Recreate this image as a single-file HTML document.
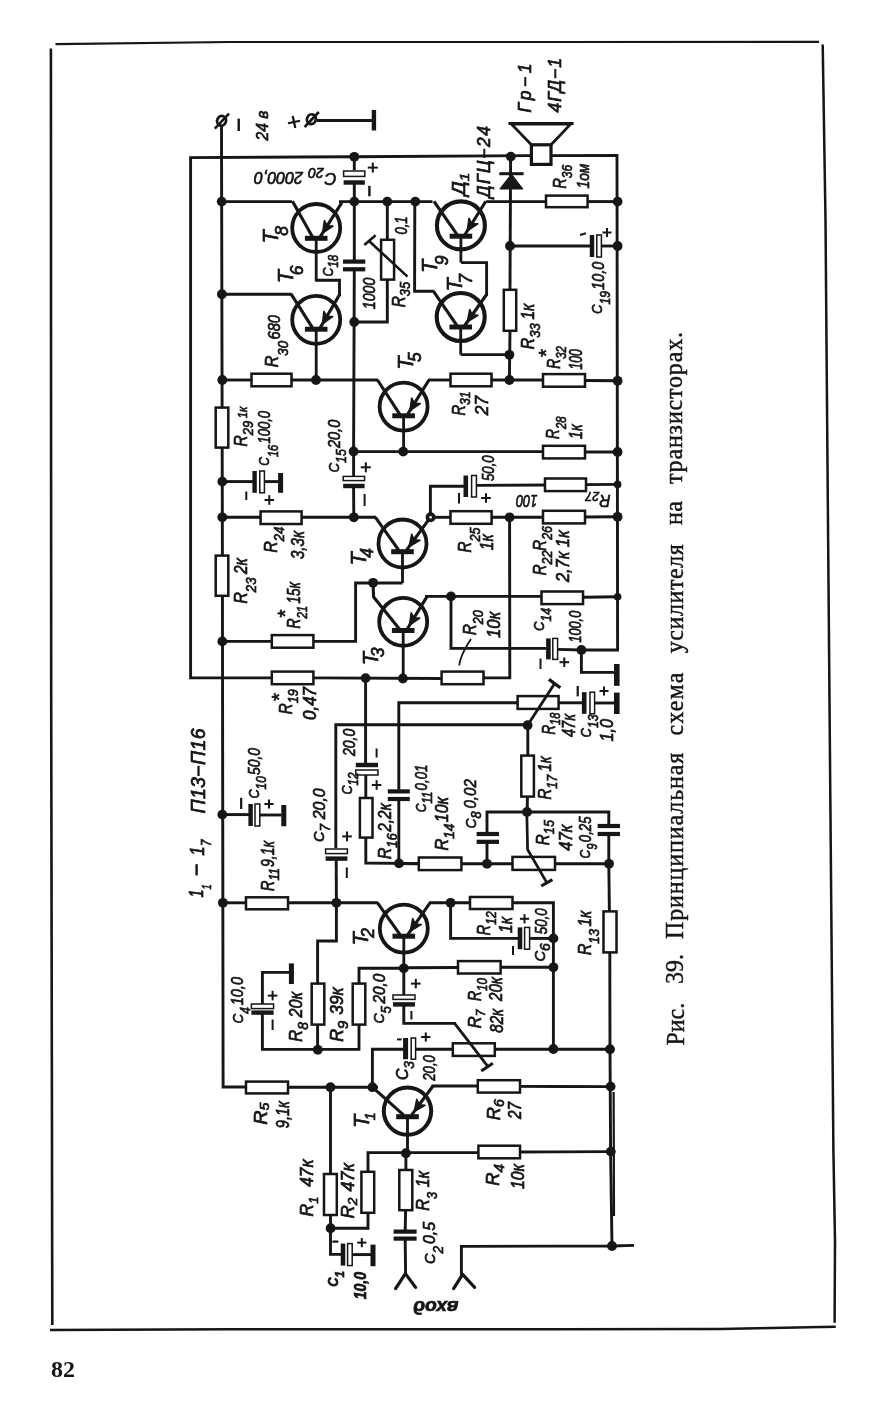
<!DOCTYPE html>
<html><head><meta charset="utf-8"><title>Рис. 39</title>
<style>
html,body{margin:0;padding:0;background:#fff;}
body{width:880px;height:1402px;overflow:hidden;font-family:"Liberation Sans",sans-serif;}
svg{display:block;}
</style></head>
<body>
<svg width="880" height="1402" viewBox="0 0 880 1402">
<rect width="880" height="1402" fill="#fff"/>
<defs><filter id="soft" x="-2%" y="-2%" width="104%" height="104%"><feGaussianBlur stdDeviation="0.42"/></filter></defs>
<g opacity="0.999" filter="url(#soft)">
<polyline points="55.5,44.1 230,42 819,41.9" fill="none" stroke="#141414" stroke-width="2.1" stroke-linecap="butt" stroke-linejoin="miter"/>
<polyline points="50.9,48.4 51.2,700 52.3,1325" fill="none" stroke="#141414" stroke-width="2.6" stroke-linecap="butt" stroke-linejoin="miter"/>
<polyline points="822.7,44.5 825.5,220 827.8,500 831.2,900 833.4,1150 835,1241 834.6,1322.7" fill="none" stroke="#141414" stroke-width="2.5" stroke-linecap="butt" stroke-linejoin="miter"/>
<polyline points="50,1330 230,1329.3 560,1329.2 720,1328.9 835.7,1326.8" fill="none" stroke="#141414" stroke-width="2.5" stroke-linecap="butt" stroke-linejoin="miter"/>
<text transform="translate(51,1377.4) rotate(0)" font-family="'Liberation Serif', sans-serif" font-size="24" font-style="normal" font-weight="bold" text-anchor="start" fill="#141414"  stroke="#141414" stroke-width="0">82</text>
<text transform="translate(683.6,1045.6) rotate(-90) scale(1,1.09)" font-family="'Liberation Serif', sans-serif" font-size="24" font-style="normal" font-weight="normal" text-anchor="start" fill="#141414" letter-spacing="0" stroke="#141414" stroke-width="0.4">Рис.</text>
<text transform="translate(683.4,984) rotate(-90) scale(1,1.09)" font-family="'Liberation Serif', sans-serif" font-size="24" font-style="normal" font-weight="normal" text-anchor="start" fill="#141414" letter-spacing="0" stroke="#141414" stroke-width="0.4">39.</text>
<text transform="translate(683.3,939) rotate(-90) scale(1,1.09)" font-family="'Liberation Serif', sans-serif" font-size="24" font-style="normal" font-weight="normal" text-anchor="start" fill="#141414" textLength="186.3" lengthAdjust="spacing" stroke="#141414" stroke-width="0.4">Принципиальная</text>
<text transform="translate(682.8,735.4) rotate(-90) scale(1,1.09)" font-family="'Liberation Serif', sans-serif" font-size="24" font-style="normal" font-weight="normal" text-anchor="start" fill="#141414" textLength="62.9" lengthAdjust="spacing" stroke="#141414" stroke-width="0.4">схема</text>
<text transform="translate(682.6,653.2) rotate(-90) scale(1,1.09)" font-family="'Liberation Serif', sans-serif" font-size="24" font-style="normal" font-weight="normal" text-anchor="start" fill="#141414" textLength="109" lengthAdjust="spacing" stroke="#141414" stroke-width="0.4">усилителя</text>
<text transform="translate(682.3,524.9) rotate(-90) scale(1,1.09)" font-family="'Liberation Serif', sans-serif" font-size="24" font-style="normal" font-weight="normal" text-anchor="start" fill="#141414" letter-spacing="0.3" stroke="#141414" stroke-width="0.4">на</text>
<text transform="translate(682.2,484) rotate(-90) scale(1,1.09)" font-family="'Liberation Serif', sans-serif" font-size="24" font-style="normal" font-weight="normal" text-anchor="start" fill="#141414" textLength="152" lengthAdjust="spacing" stroke="#141414" stroke-width="0.4">транзисторах.</text>
<polyline points="221.5,125 222.3,500 223.1,1087 246,1087" fill="none" stroke="#141414" stroke-width="2.9" stroke-linecap="butt" stroke-linejoin="miter"/>
<ellipse cx="221.6" cy="120.8" rx="4.4" ry="4.9" fill="#fff" stroke="#141414" stroke-width="2.7" transform="rotate(25 221.6 120.8)"/>
<polyline points="214.8,128.6 229,113.6" fill="none" stroke="#141414" stroke-width="2.6" stroke-linecap="butt" stroke-linejoin="miter"/>
<polyline points="238.7,118.6 238.7,131" fill="none" stroke="#141414" stroke-width="2.4" stroke-linecap="butt" stroke-linejoin="miter"/>
<g transform="rotate(-12 294 122)">
<polyline points="287.8,122 300.2,122" fill="none" stroke="#141414" stroke-width="2.2" stroke-linecap="butt" stroke-linejoin="miter"/>
<polyline points="294,115.8 294,128.2" fill="none" stroke="#141414" stroke-width="2.2" stroke-linecap="butt" stroke-linejoin="miter"/>
</g>
<ellipse cx="311.4" cy="119.2" rx="4.4" ry="4.9" fill="#fff" stroke="#141414" stroke-width="2.7" transform="rotate(25 311.4 119.2)"/>
<polyline points="304.6,127 318.8,112" fill="none" stroke="#141414" stroke-width="2.6" stroke-linecap="butt" stroke-linejoin="miter"/>
<polyline points="316.5,120.4 373,120.4" fill="none" stroke="#141414" stroke-width="3" stroke-linecap="butt" stroke-linejoin="miter"/>
<polyline points="373.9,110 373.9,130.5" fill="none" stroke="#141414" stroke-width="4.4" stroke-linecap="butt" stroke-linejoin="miter"/>
<polyline points="271.8,677.9 190.6,677.9 190.6,157.6 354,156.8 530,155.6" fill="none" stroke="#141414" stroke-width="2.9" stroke-linecap="butt" stroke-linejoin="miter"/>
<rect x="531.4" y="144.8" width="19.6" height="19.6" fill="#fff" stroke="#141414" stroke-width="3.2"/>
<path d="M531.4,144.8 L511.5,124.2 L570.5,124.2 L551,144.8" fill="none" stroke="#141414" stroke-width="2.8" stroke-linejoin="miter"/>
<polyline points="508.5,123.4 573.5,123.4" fill="none" stroke="#141414" stroke-width="3" stroke-linecap="butt" stroke-linejoin="miter"/>
<polyline points="552,155.6 617,155.4 617.6,650 581.4,650" fill="none" stroke="#141414" stroke-width="2.9" stroke-linecap="butt" stroke-linejoin="miter"/>
<circle cx="354.3" cy="156.8" r="4.9" fill="#141414"/>
<polyline points="354.3,156.8 354.3,170" fill="none" stroke="#141414" stroke-width="2.9" stroke-linecap="butt" stroke-linejoin="miter"/>
<rect x="343.6" y="171" width="21.2" height="5.4" fill="#fff" stroke="#141414" stroke-width="1.5"/>
<polyline points="343.6,182.5 364.8,182.5" fill="none" stroke="#141414" stroke-width="4.4" stroke-linecap="butt" stroke-linejoin="miter"/>
<polyline points="354.3,184 354.3,201.5" fill="none" stroke="#141414" stroke-width="2.9" stroke-linecap="butt" stroke-linejoin="miter"/>
<polyline points="367.8,167.6 377.8,167.6" fill="none" stroke="#141414" stroke-width="2" stroke-linecap="butt" stroke-linejoin="miter"/>
<polyline points="372.8,162.6 372.8,172.6" fill="none" stroke="#141414" stroke-width="2" stroke-linecap="butt" stroke-linejoin="miter"/>
<polyline points="369.4,185.8 369.4,196.2" fill="none" stroke="#141414" stroke-width="2.4" stroke-linecap="butt" stroke-linejoin="miter"/>
<text transform="translate(336.6,173.4) rotate(180)" font-family="'Liberation Sans', sans-serif" font-size="16.5" font-style="italic" font-weight="normal" text-anchor="start" fill="#141414"  stroke="#141414" stroke-width="0.7">C<tspan font-size="14" dy="5.5" dx="1">20</tspan><tspan font-size="16" dy="-4.5" dx="5">2000,0</tspan></text>
<circle cx="221.7" cy="201.6" r="4.9" fill="#141414"/>
<polyline points="222.3,201.6 292,201.6" fill="none" stroke="#141414" stroke-width="2.9" stroke-linecap="butt" stroke-linejoin="miter"/>
<circle cx="316.2" cy="228" r="24" fill="none" stroke="#141414" stroke-width="3.8"/>
<polyline points="304.9,238.3 327.5,238.3" fill="none" stroke="#141414" stroke-width="5" stroke-linecap="butt" stroke-linejoin="miter"/>
<polyline points="292.5,201.3 312.4,236.8" fill="none" stroke="#141414" stroke-width="3.1" stroke-linecap="butt" stroke-linejoin="miter"/>
<polyline points="341.8,202.6 320.2,236.8" fill="none" stroke="#141414" stroke-width="3.1" stroke-linecap="butt" stroke-linejoin="miter"/>
<path d="M322.6,233 L333,226.1 L327.1,225.8 L324.4,220.6 Z" fill="#141414" stroke="#141414" stroke-width="1.6" stroke-linejoin="round"/>
<polyline points="316.2,238.3 316.2,281.5" fill="none" stroke="#141414" stroke-width="2.8" stroke-linecap="butt" stroke-linejoin="miter"/>
<polyline points="339,201.6 432.5,201.6" fill="none" stroke="#141414" stroke-width="2.9" stroke-linecap="butt" stroke-linejoin="miter"/>
<circle cx="354.3" cy="201.6" r="4.9" fill="#141414"/>
<circle cx="387.3" cy="201.6" r="4.9" fill="#141414"/>
<circle cx="415.3" cy="201.6" r="4.9" fill="#141414"/>
<polyline points="316.3,280.3 339.5,280.3 339.5,296" fill="none" stroke="#141414" stroke-width="2.9" stroke-linecap="butt" stroke-linejoin="miter"/>
<circle cx="221.9" cy="294.2" r="4.9" fill="#141414"/>
<polyline points="222.3,294.2 291.5,294.2" fill="none" stroke="#141414" stroke-width="2.9" stroke-linecap="butt" stroke-linejoin="miter"/>
<circle cx="316.2" cy="319.8" r="24" fill="none" stroke="#141414" stroke-width="3.8"/>
<polyline points="304.9,329.2 327.5,329.2" fill="none" stroke="#141414" stroke-width="5" stroke-linecap="butt" stroke-linejoin="miter"/>
<polyline points="291,293.8 312.4,327.7" fill="none" stroke="#141414" stroke-width="3.1" stroke-linecap="butt" stroke-linejoin="miter"/>
<polyline points="339.6,294.6 320.2,327.7" fill="none" stroke="#141414" stroke-width="3.1" stroke-linecap="butt" stroke-linejoin="miter"/>
<path d="M322.5,323.8 L332.6,316.5 L326.8,316.5 L323.9,311.4 Z" fill="#141414" stroke="#141414" stroke-width="1.6" stroke-linejoin="round"/>
<polyline points="316.2,329.2 316.2,380" fill="none" stroke="#141414" stroke-width="2.8" stroke-linecap="butt" stroke-linejoin="miter"/>
<polyline points="354.3,201.6 354.3,260" fill="none" stroke="#141414" stroke-width="2.9" stroke-linecap="butt" stroke-linejoin="miter"/>
<polyline points="343,261.6 365.3,261.6" fill="none" stroke="#141414" stroke-width="4.2" stroke-linecap="butt" stroke-linejoin="miter"/>
<polyline points="343,269.3 365.3,269.3" fill="none" stroke="#141414" stroke-width="4.2" stroke-linecap="butt" stroke-linejoin="miter"/>
<polyline points="354.3,270 353.6,451.5 353.6,477" fill="none" stroke="#141414" stroke-width="2.9" stroke-linecap="butt" stroke-linejoin="miter"/>
<circle cx="354.2" cy="322" r="4.9" fill="#141414"/>
<polyline points="387.3,201.6 387.3,240" fill="none" stroke="#141414" stroke-width="2.9" stroke-linecap="butt" stroke-linejoin="miter"/>
<rect x="381.1" y="239.8" width="13" height="39.8" fill="#fff" stroke="#141414" stroke-width="2.5"/>
<polyline points="387.3,279.6 387.3,322 354.3,322" fill="none" stroke="#141414" stroke-width="2.9" stroke-linecap="butt" stroke-linejoin="miter"/>
<polyline points="369,241 407.5,276.6" fill="none" stroke="#141414" stroke-width="2.6" stroke-linecap="butt" stroke-linejoin="miter"/>
<polyline points="364.3,245 375.6,235.3" fill="none" stroke="#141414" stroke-width="2.6" stroke-linecap="butt" stroke-linejoin="miter"/>
<polyline points="414.8,201.6 414.6,291.2 434,291.2" fill="none" stroke="#141414" stroke-width="2.9" stroke-linecap="butt" stroke-linejoin="miter"/>
<circle cx="460.9" cy="225.4" r="24" fill="none" stroke="#141414" stroke-width="4.1"/>
<polyline points="449.6,236.2 472.2,236.2" fill="none" stroke="#141414" stroke-width="5" stroke-linecap="butt" stroke-linejoin="miter"/>
<polyline points="434,201.3 457.1,234.7" fill="none" stroke="#141414" stroke-width="3.1" stroke-linecap="butt" stroke-linejoin="miter"/>
<polyline points="485.8,201.3 464.9,234.7" fill="none" stroke="#141414" stroke-width="3.1" stroke-linecap="butt" stroke-linejoin="miter"/>
<path d="M467.3,230.9 L477.7,223.9 L471.8,223.7 L469,218.5 Z" fill="#141414" stroke="#141414" stroke-width="1.6" stroke-linejoin="round"/>
<polyline points="460.9,236.2 460.9,262.6" fill="none" stroke="#141414" stroke-width="2.8" stroke-linecap="butt" stroke-linejoin="miter"/>
<polyline points="461.2,262.6 486.6,262.6 486.6,296" fill="none" stroke="#141414" stroke-width="2.9" stroke-linecap="butt" stroke-linejoin="miter"/>
<circle cx="460.7" cy="317" r="24" fill="none" stroke="#141414" stroke-width="4.1"/>
<polyline points="449.4,327 472,327" fill="none" stroke="#141414" stroke-width="5" stroke-linecap="butt" stroke-linejoin="miter"/>
<polyline points="433.4,291.2 456.9,325.5" fill="none" stroke="#141414" stroke-width="3.1" stroke-linecap="butt" stroke-linejoin="miter"/>
<polyline points="486.6,294.5 464.7,325.5" fill="none" stroke="#141414" stroke-width="3.1" stroke-linecap="butt" stroke-linejoin="miter"/>
<path d="M467.3,321.8 L478,315.4 L472.2,314.9 L469.7,309.6 Z" fill="#141414" stroke="#141414" stroke-width="1.6" stroke-linejoin="round"/>
<polyline points="460.7,327 460.7,354.6" fill="none" stroke="#141414" stroke-width="2.8" stroke-linecap="butt" stroke-linejoin="miter"/>
<polyline points="460.7,354.6 509.6,354.6" fill="none" stroke="#141414" stroke-width="2.9" stroke-linecap="butt" stroke-linejoin="miter"/>
<polyline points="486,201.6 546,201.6" fill="none" stroke="#141414" stroke-width="2.9" stroke-linecap="butt" stroke-linejoin="miter"/>
<circle cx="510.8" cy="156.6" r="4.9" fill="#141414"/>
<polyline points="510.6,156.6 510,290" fill="none" stroke="#141414" stroke-width="2.9" stroke-linecap="butt" stroke-linejoin="miter"/>
<polyline points="499.3,173.7 523.6,173.7" fill="none" stroke="#141414" stroke-width="3" stroke-linecap="butt" stroke-linejoin="miter"/>
<path d="M511.4,174 L523,189 L499.8,189 Z" fill="#141414" stroke="#141414" stroke-width="1"/>
<rect x="546" y="195.6" width="41.6" height="11.6" fill="#fff" stroke="#141414" stroke-width="2.5"/>
<polyline points="587.6,201.6 617.6,201.6" fill="none" stroke="#141414" stroke-width="2.9" stroke-linecap="butt" stroke-linejoin="miter"/>
<circle cx="617.6" cy="201.6" r="4.9" fill="#141414"/>
<circle cx="510" cy="246" r="4.9" fill="#141414"/>
<polyline points="510,246 590,246" fill="none" stroke="#141414" stroke-width="2.9" stroke-linecap="butt" stroke-linejoin="miter"/>
<polyline points="592,235 592,257" fill="none" stroke="#141414" stroke-width="4.4" stroke-linecap="butt" stroke-linejoin="miter"/>
<rect x="596.8" y="235" width="4.6" height="22" fill="#fff" stroke="#141414" stroke-width="1.5"/>
<polyline points="601.4,246 617.6,246" fill="none" stroke="#141414" stroke-width="2.9" stroke-linecap="butt" stroke-linejoin="miter"/>
<circle cx="617.6" cy="246" r="4.9" fill="#141414"/>
<polyline points="580,235 586,233.2" fill="none" stroke="#141414" stroke-width="2" stroke-linecap="butt" stroke-linejoin="miter"/>
<polyline points="602.5,232.5 611.5,232.5" fill="none" stroke="#141414" stroke-width="2" stroke-linecap="butt" stroke-linejoin="miter"/>
<polyline points="607,228 607,237" fill="none" stroke="#141414" stroke-width="2" stroke-linecap="butt" stroke-linejoin="miter"/>
<rect x="503.8" y="289.8" width="12.4" height="41" fill="#fff" stroke="#141414" stroke-width="2.5"/>
<polyline points="510,330.8 509.4,380" fill="none" stroke="#141414" stroke-width="2.9" stroke-linecap="butt" stroke-linejoin="miter"/>
<circle cx="509.4" cy="354.8" r="4.9" fill="#141414"/>
<circle cx="509.4" cy="380" r="4.9" fill="#141414"/>
<circle cx="222.3" cy="380" r="4.9" fill="#141414"/>
<polyline points="222.3,380 251.5,380" fill="none" stroke="#141414" stroke-width="2.9" stroke-linecap="butt" stroke-linejoin="miter"/>
<rect x="251.5" y="373.7" width="40" height="12.6" fill="#fff" stroke="#141414" stroke-width="2.5"/>
<polyline points="291.5,380 378,380" fill="none" stroke="#141414" stroke-width="2.9" stroke-linecap="butt" stroke-linejoin="miter"/>
<circle cx="316" cy="380" r="4.9" fill="#141414"/>
<circle cx="403.6" cy="406.6" r="24" fill="none" stroke="#141414" stroke-width="3.8"/>
<polyline points="392.3,415.8 414.9,415.8" fill="none" stroke="#141414" stroke-width="5" stroke-linecap="butt" stroke-linejoin="miter"/>
<polyline points="377.5,380 399.8,414.3" fill="none" stroke="#141414" stroke-width="3.1" stroke-linecap="butt" stroke-linejoin="miter"/>
<polyline points="429,380 407.6,414.3" fill="none" stroke="#141414" stroke-width="3.1" stroke-linecap="butt" stroke-linejoin="miter"/>
<path d="M410,410.5 L420.3,403.5 L414.5,403.3 L411.7,398.1 Z" fill="#141414" stroke="#141414" stroke-width="1.6" stroke-linejoin="round"/>
<polyline points="403.6,415.8 403.6,451.5" fill="none" stroke="#141414" stroke-width="2.8" stroke-linecap="butt" stroke-linejoin="miter"/>
<polyline points="428,380 450.5,380" fill="none" stroke="#141414" stroke-width="2.9" stroke-linecap="butt" stroke-linejoin="miter"/>
<rect x="450.5" y="373.7" width="41" height="12.6" fill="#fff" stroke="#141414" stroke-width="2.5"/>
<polyline points="491.5,380 543,380" fill="none" stroke="#141414" stroke-width="2.9" stroke-linecap="butt" stroke-linejoin="miter"/>
<rect x="543" y="374.1" width="42" height="12.6" fill="#fff" stroke="#141414" stroke-width="2.5"/>
<polyline points="585,380.5 617.6,380.8" fill="none" stroke="#141414" stroke-width="2.9" stroke-linecap="butt" stroke-linejoin="miter"/>
<circle cx="617.6" cy="380.8" r="4.9" fill="#141414"/>
<rect x="215.7" y="407.6" width="12.6" height="40" fill="#fff" stroke="#141414" stroke-width="2.5"/>
<circle cx="222.3" cy="481.6" r="4.9" fill="#141414"/>
<polyline points="222.3,481.6 253,481.6" fill="none" stroke="#141414" stroke-width="2.9" stroke-linecap="butt" stroke-linejoin="miter"/>
<polyline points="254.6,471 254.6,492.8" fill="none" stroke="#141414" stroke-width="4.4" stroke-linecap="butt" stroke-linejoin="miter"/>
<rect x="259.8" y="471" width="4.6" height="21.8" fill="#fff" stroke="#141414" stroke-width="1.5"/>
<polyline points="264.4,481.6 280,481.6" fill="none" stroke="#141414" stroke-width="2.9" stroke-linecap="butt" stroke-linejoin="miter"/>
<polyline points="280.6,473 280.6,492.8" fill="none" stroke="#141414" stroke-width="5" stroke-linecap="butt" stroke-linejoin="miter"/>
<polyline points="246.3,491.5 246.3,500" fill="none" stroke="#141414" stroke-width="2" stroke-linecap="butt" stroke-linejoin="miter"/>
<polyline points="264.5,500 274.1,500" fill="none" stroke="#141414" stroke-width="2" stroke-linecap="butt" stroke-linejoin="miter"/>
<polyline points="269.3,495.2 269.3,504.8" fill="none" stroke="#141414" stroke-width="2" stroke-linecap="butt" stroke-linejoin="miter"/>
<circle cx="222.3" cy="517.3" r="4.9" fill="#141414"/>
<polyline points="222.3,517.3 260.6,517.3" fill="none" stroke="#141414" stroke-width="2.9" stroke-linecap="butt" stroke-linejoin="miter"/>
<rect x="260.6" y="511.4" width="41" height="12.6" fill="#fff" stroke="#141414" stroke-width="2.5"/>
<polyline points="301.6,517.3 376,517.3" fill="none" stroke="#141414" stroke-width="2.9" stroke-linecap="butt" stroke-linejoin="miter"/>
<circle cx="353.8" cy="517.3" r="4.9" fill="#141414"/>
<rect x="215.7" y="555.6" width="12.6" height="40.2" fill="#fff" stroke="#141414" stroke-width="2.5"/>
<circle cx="353.6" cy="451.5" r="4.9" fill="#141414"/>
<rect x="343.2" y="476.4" width="21.4" height="4.2" fill="#fff" stroke="#141414" stroke-width="1.5"/>
<polyline points="343.2,486 364.6,486" fill="none" stroke="#141414" stroke-width="4.4" stroke-linecap="butt" stroke-linejoin="miter"/>
<polyline points="353.6,488 353.8,517.3" fill="none" stroke="#141414" stroke-width="2.9" stroke-linecap="butt" stroke-linejoin="miter"/>
<polyline points="360.8,467.3 370.8,467.3" fill="none" stroke="#141414" stroke-width="2" stroke-linecap="butt" stroke-linejoin="miter"/>
<polyline points="365.8,462.3 365.8,472.3" fill="none" stroke="#141414" stroke-width="2" stroke-linecap="butt" stroke-linejoin="miter"/>
<polyline points="364.6,494 364.6,506" fill="none" stroke="#141414" stroke-width="2" stroke-linecap="butt" stroke-linejoin="miter"/>
<polyline points="353.6,451.6 543,451.6" fill="none" stroke="#141414" stroke-width="2.9" stroke-linecap="butt" stroke-linejoin="miter"/>
<circle cx="403.2" cy="451.6" r="4.9" fill="#141414"/>
<rect x="543" y="445.8" width="42" height="12.6" fill="#fff" stroke="#141414" stroke-width="2.5"/>
<polyline points="585,452 617.6,452" fill="none" stroke="#141414" stroke-width="2.9" stroke-linecap="butt" stroke-linejoin="miter"/>
<circle cx="617.6" cy="452" r="4.9" fill="#141414"/>
<circle cx="402.5" cy="543.5" r="24" fill="none" stroke="#141414" stroke-width="3.8"/>
<polyline points="391.2,551.7 413.8,551.7" fill="none" stroke="#141414" stroke-width="5" stroke-linecap="butt" stroke-linejoin="miter"/>
<polyline points="375.5,517.3 398.7,550.2" fill="none" stroke="#141414" stroke-width="3.1" stroke-linecap="butt" stroke-linejoin="miter"/>
<polyline points="430.4,517.3 406.5,550.2" fill="none" stroke="#141414" stroke-width="3.1" stroke-linecap="butt" stroke-linejoin="miter"/>
<path d="M409.1,546.6 L420,540.3 L414.1,539.7 L411.7,534.3 Z" fill="#141414" stroke="#141414" stroke-width="1.6" stroke-linejoin="round"/>
<polyline points="402.5,551.7 402.5,583" fill="none" stroke="#141414" stroke-width="2.8" stroke-linecap="butt" stroke-linejoin="miter"/>
<circle cx="430.6" cy="517.3" r="3.2" fill="#fff" stroke="#141414" stroke-width="3.6"/>
<polyline points="430.4,513.5 430.4,486.2 464,486.2" fill="none" stroke="#141414" stroke-width="2.9" stroke-linecap="butt" stroke-linejoin="miter"/>
<polyline points="465.8,475.5 465.8,497" fill="none" stroke="#141414" stroke-width="4.6" stroke-linecap="butt" stroke-linejoin="miter"/>
<rect x="471.6" y="475.5" width="4.8" height="21.5" fill="#fff" stroke="#141414" stroke-width="1.5"/>
<polyline points="476.4,485.4 545,485" fill="none" stroke="#141414" stroke-width="2.9" stroke-linecap="butt" stroke-linejoin="miter"/>
<rect x="545" y="478.5" width="41" height="12.6" fill="#fff" stroke="#141414" stroke-width="2.5"/>
<polyline points="586,484.6 617.6,484.4" fill="none" stroke="#141414" stroke-width="2.9" stroke-linecap="butt" stroke-linejoin="miter"/>
<circle cx="617.6" cy="484.4" r="3.8" fill="#141414"/>
<polyline points="459,493 459,503.5" fill="none" stroke="#141414" stroke-width="2" stroke-linecap="butt" stroke-linejoin="miter"/>
<polyline points="481.2,498 490.8,498" fill="none" stroke="#141414" stroke-width="2" stroke-linecap="butt" stroke-linejoin="miter"/>
<polyline points="486,493.2 486,502.8" fill="none" stroke="#141414" stroke-width="2" stroke-linecap="butt" stroke-linejoin="miter"/>
<text transform="translate(537.5,494.6) rotate(180)" font-family="'Liberation Sans', sans-serif" font-size="16" font-style="italic" font-weight="normal" text-anchor="start" fill="#141414" textLength="21.5" lengthAdjust="spacingAndGlyphs" stroke="#141414" stroke-width="0.7">100</text>
<text transform="translate(610.4,495.2) rotate(180)" font-family="'Liberation Sans', sans-serif" font-size="17" font-style="italic" font-weight="normal" text-anchor="start" fill="#141414" textLength="25" lengthAdjust="spacingAndGlyphs" stroke="#141414" stroke-width="0.7">R<tspan font-size="13.5" dy="3.6">27</tspan></text>
<polyline points="433.6,517.3 450.5,517.3" fill="none" stroke="#141414" stroke-width="2.9" stroke-linecap="butt" stroke-linejoin="miter"/>
<rect x="450.5" y="511.2" width="41.1" height="12.6" fill="#fff" stroke="#141414" stroke-width="2.5"/>
<polyline points="491.6,517.3 543,517.3" fill="none" stroke="#141414" stroke-width="2.9" stroke-linecap="butt" stroke-linejoin="miter"/>
<circle cx="509.6" cy="517.3" r="4.9" fill="#141414"/>
<rect x="543" y="510.8" width="42" height="12.6" fill="#fff" stroke="#141414" stroke-width="2.5"/>
<polyline points="585,517 617.6,516.8" fill="none" stroke="#141414" stroke-width="2.9" stroke-linecap="butt" stroke-linejoin="miter"/>
<circle cx="617.6" cy="516.8" r="4.9" fill="#141414"/>
<polyline points="509.6,517.3 509.8,677.9 483.5,677.9" fill="none" stroke="#141414" stroke-width="2.9" stroke-linecap="butt" stroke-linejoin="miter"/>
<polyline points="402.5,583 355.6,583 355.6,641.4 313.4,641.4" fill="none" stroke="#141414" stroke-width="2.9" stroke-linecap="butt" stroke-linejoin="miter"/>
<circle cx="373.1" cy="582.8" r="4.9" fill="#141414"/>
<circle cx="403.2" cy="621.8" r="24" fill="none" stroke="#141414" stroke-width="3.8"/>
<polyline points="391.9,630.5 414.5,630.5" fill="none" stroke="#141414" stroke-width="5" stroke-linecap="butt" stroke-linejoin="miter"/>
<polyline points="373,582.8 373.6,597 399.4,629" fill="none" stroke="#141414" stroke-width="3.1" stroke-linecap="butt" stroke-linejoin="round"/>
<polyline points="427,596.6 407.2,629" fill="none" stroke="#141414" stroke-width="3.1" stroke-linecap="butt" stroke-linejoin="miter"/>
<path d="M409.5,625.2 L419.8,618.1 L414,617.9 L411.2,612.8 Z" fill="#141414" stroke="#141414" stroke-width="1.6" stroke-linejoin="round"/>
<polyline points="403.2,630.5 403.2,678" fill="none" stroke="#141414" stroke-width="2.8" stroke-linecap="butt" stroke-linejoin="miter"/>
<circle cx="222.3" cy="641.4" r="4.9" fill="#141414"/>
<polyline points="222.3,641.4 271.8,641.4" fill="none" stroke="#141414" stroke-width="2.9" stroke-linecap="butt" stroke-linejoin="miter"/>
<rect x="271.8" y="635.1" width="41.6" height="12.6" fill="#fff" stroke="#141414" stroke-width="2.5"/>
<polyline points="425,596.4 541.5,596.4" fill="none" stroke="#141414" stroke-width="2.9" stroke-linecap="butt" stroke-linejoin="miter"/>
<circle cx="451" cy="596.4" r="4.9" fill="#141414"/>
<rect x="541.5" y="591.5" width="41.5" height="12.6" fill="#fff" stroke="#141414" stroke-width="2.5"/>
<polyline points="583,597.2 617.6,596.8" fill="none" stroke="#141414" stroke-width="2.9" stroke-linecap="butt" stroke-linejoin="miter"/>
<circle cx="617.6" cy="596.8" r="3.8" fill="#141414"/>
<polyline points="451,596.4 451,648.4 546.5,648.4" fill="none" stroke="#141414" stroke-width="2.9" stroke-linecap="butt" stroke-linejoin="miter"/>
<polyline points="548.4,638.4 548.4,659.4" fill="none" stroke="#141414" stroke-width="4.6" stroke-linecap="butt" stroke-linejoin="miter"/>
<rect x="552.8" y="638.4" width="4.8" height="21" fill="#fff" stroke="#141414" stroke-width="1.5"/>
<polyline points="557.6,649.4 581.4,650" fill="none" stroke="#141414" stroke-width="2.9" stroke-linecap="butt" stroke-linejoin="miter"/>
<circle cx="581.4" cy="650" r="4.9" fill="#141414"/>
<polyline points="581.4,650 581.4,672.4 614.5,672.4" fill="none" stroke="#141414" stroke-width="2.9" stroke-linecap="butt" stroke-linejoin="miter"/>
<polyline points="616.8,664 616.8,685.8" fill="none" stroke="#141414" stroke-width="5.6" stroke-linecap="butt" stroke-linejoin="miter"/>
<polyline points="540.5,658.5 540.5,669" fill="none" stroke="#141414" stroke-width="2" stroke-linecap="butt" stroke-linejoin="miter"/>
<polyline points="559.5,662.2 569.1,662.2" fill="none" stroke="#141414" stroke-width="2" stroke-linecap="butt" stroke-linejoin="miter"/>
<polyline points="564.3,657.4 564.3,667" fill="none" stroke="#141414" stroke-width="2" stroke-linecap="butt" stroke-linejoin="miter"/>
<rect x="271.8" y="671.6" width="41.6" height="12.6" fill="#fff" stroke="#141414" stroke-width="2.5"/>
<polyline points="313.4,677.9 441.6,678.5" fill="none" stroke="#141414" stroke-width="2.9" stroke-linecap="butt" stroke-linejoin="miter"/>
<circle cx="365.6" cy="678.1" r="4.9" fill="#141414"/>
<circle cx="402.9" cy="678.5" r="4.9" fill="#141414"/>
<rect x="441.6" y="671.6" width="41.9" height="12.6" fill="#fff" stroke="#141414" stroke-width="2.5"/>
<path d="M471,639 C467,645 463.5,651 461,658 C460,661 459.4,663 459.2,665.5" fill="none" stroke="#141414" stroke-width="1.8"/>
<polyline points="365.6,677.9 365.6,763" fill="none" stroke="#141414" stroke-width="2.9" stroke-linecap="butt" stroke-linejoin="miter"/>
<polyline points="355.8,765 378,765" fill="none" stroke="#141414" stroke-width="4.4" stroke-linecap="butt" stroke-linejoin="miter"/>
<rect x="355.8" y="770" width="22.2" height="5" fill="#fff" stroke="#141414" stroke-width="1.5"/>
<polyline points="365.8,775 365.8,798" fill="none" stroke="#141414" stroke-width="2.9" stroke-linecap="butt" stroke-linejoin="miter"/>
<rect x="359.9" y="798" width="12.6" height="39.6" fill="#fff" stroke="#141414" stroke-width="2.5"/>
<polyline points="365.8,837.6 365.8,863 418.8,863.6" fill="none" stroke="#141414" stroke-width="2.9" stroke-linecap="butt" stroke-linejoin="miter"/>
<polyline points="376.6,748.5 376.6,757.5" fill="none" stroke="#141414" stroke-width="2" stroke-linecap="butt" stroke-linejoin="miter"/>
<polyline points="371.8,785 381.4,785" fill="none" stroke="#141414" stroke-width="2" stroke-linecap="butt" stroke-linejoin="miter"/>
<polyline points="376.6,780.2 376.6,789.8" fill="none" stroke="#141414" stroke-width="2" stroke-linecap="butt" stroke-linejoin="miter"/>
<polyline points="398.8,789.5 398.8,702.8 517.6,702.8" fill="none" stroke="#141414" stroke-width="2.9" stroke-linecap="butt" stroke-linejoin="miter"/>
<polyline points="387.8,791.4 409.8,791.4" fill="none" stroke="#141414" stroke-width="4.2" stroke-linecap="butt" stroke-linejoin="miter"/>
<polyline points="387.8,799 409.8,799" fill="none" stroke="#141414" stroke-width="4.2" stroke-linecap="butt" stroke-linejoin="miter"/>
<polyline points="398.8,800.5 398.8,863.4" fill="none" stroke="#141414" stroke-width="2.9" stroke-linecap="butt" stroke-linejoin="miter"/>
<circle cx="399" cy="863.4" r="4.9" fill="#141414"/>
<rect x="517.6" y="696.1" width="41" height="12.8" fill="#fff" stroke="#141414" stroke-width="2.5"/>
<polyline points="558.6,702.8 582.5,702.8" fill="none" stroke="#141414" stroke-width="2.9" stroke-linecap="butt" stroke-linejoin="miter"/>
<polyline points="584.2,692.2 584.2,713.8" fill="none" stroke="#141414" stroke-width="4.6" stroke-linecap="butt" stroke-linejoin="miter"/>
<rect x="590" y="692.2" width="4.6" height="21.6" fill="#fff" stroke="#141414" stroke-width="1.5"/>
<polyline points="594.6,703 614.5,703" fill="none" stroke="#141414" stroke-width="2.9" stroke-linecap="butt" stroke-linejoin="miter"/>
<polyline points="616.8,692.6 616.8,714" fill="none" stroke="#141414" stroke-width="5.6" stroke-linecap="butt" stroke-linejoin="miter"/>
<polyline points="577.7,686 577.7,696.4" fill="none" stroke="#141414" stroke-width="2.2" stroke-linecap="butt" stroke-linejoin="miter"/>
<polyline points="599.5,691 608.5,691" fill="none" stroke="#141414" stroke-width="2" stroke-linecap="butt" stroke-linejoin="miter"/>
<polyline points="604,686.5 604,695.5" fill="none" stroke="#141414" stroke-width="2" stroke-linecap="butt" stroke-linejoin="miter"/>
<polyline points="527.6,725.2 554.8,683.2" fill="none" stroke="#141414" stroke-width="2.8" stroke-linecap="butt" stroke-linejoin="miter"/>
<polyline points="548.9,679.4 560.4,687.8" fill="none" stroke="#141414" stroke-width="3.2" stroke-linecap="butt" stroke-linejoin="miter"/>
<circle cx="527.6" cy="725.2" r="4.9" fill="#141414"/>
<polyline points="335.8,848 335.8,724.8 527.8,724.8" fill="none" stroke="#141414" stroke-width="2.9" stroke-linecap="butt" stroke-linejoin="miter"/>
<polyline points="527.8,724.8 527.8,755.6" fill="none" stroke="#141414" stroke-width="2.9" stroke-linecap="butt" stroke-linejoin="miter"/>
<rect x="521.3" y="755.6" width="12.6" height="41" fill="#fff" stroke="#141414" stroke-width="2.5"/>
<polyline points="527.4,796.6 527.2,812" fill="none" stroke="#141414" stroke-width="2.9" stroke-linecap="butt" stroke-linejoin="miter"/>
<circle cx="527" cy="812" r="4.9" fill="#141414"/>
<polyline points="487,832 487,812 608.8,812 608.8,824" fill="none" stroke="#141414" stroke-width="2.9" stroke-linecap="butt" stroke-linejoin="miter"/>
<polyline points="476.6,834 499,834" fill="none" stroke="#141414" stroke-width="4.2" stroke-linecap="butt" stroke-linejoin="miter"/>
<polyline points="476.6,841.8 499,841.8" fill="none" stroke="#141414" stroke-width="4.2" stroke-linecap="butt" stroke-linejoin="miter"/>
<polyline points="487,843 487,863.8" fill="none" stroke="#141414" stroke-width="2.9" stroke-linecap="butt" stroke-linejoin="miter"/>
<polyline points="597.6,826 620,826" fill="none" stroke="#141414" stroke-width="4.2" stroke-linecap="butt" stroke-linejoin="miter"/>
<polyline points="597.6,834 620,834" fill="none" stroke="#141414" stroke-width="4.2" stroke-linecap="butt" stroke-linejoin="miter"/>
<polyline points="608.8,836 608.8,863.8" fill="none" stroke="#141414" stroke-width="2.9" stroke-linecap="butt" stroke-linejoin="miter"/>
<polyline points="399,863.5 418.8,863.8" fill="none" stroke="#141414" stroke-width="2.9" stroke-linecap="butt" stroke-linejoin="miter"/>
<rect x="418.8" y="857.5" width="42.6" height="12.6" fill="#fff" stroke="#141414" stroke-width="2.5"/>
<polyline points="461.4,863.8 512.5,863.8" fill="none" stroke="#141414" stroke-width="2.9" stroke-linecap="butt" stroke-linejoin="miter"/>
<circle cx="487" cy="863.8" r="4.9" fill="#141414"/>
<rect x="512.5" y="856.9" width="42.5" height="13" fill="#fff" stroke="#141414" stroke-width="2.5"/>
<polyline points="555,863.8 609,863.8" fill="none" stroke="#141414" stroke-width="2.9" stroke-linecap="butt" stroke-linejoin="miter"/>
<circle cx="609" cy="863.8" r="4.9" fill="#141414"/>
<polyline points="526.8,811 527.6,849.5 546.8,882.6" fill="none" stroke="#141414" stroke-width="2.7" stroke-linecap="butt" stroke-linejoin="miter"/>
<polyline points="541.2,886 552.4,879.6" fill="none" stroke="#141414" stroke-width="3" stroke-linecap="butt" stroke-linejoin="miter"/>
<polyline points="608.8,863.8 609.4,911.4" fill="none" stroke="#141414" stroke-width="2.9" stroke-linecap="butt" stroke-linejoin="miter"/>
<rect x="603.5" y="911.4" width="13" height="41" fill="#fff" stroke="#141414" stroke-width="2.5"/>
<polyline points="609.8,952.4 610,1049 610.6,1152 612,1246" fill="none" stroke="#141414" stroke-width="2.9" stroke-linecap="butt" stroke-linejoin="miter"/>
<circle cx="222.3" cy="814.6" r="4.9" fill="#141414"/>
<polyline points="222.3,814.6 249,814.6" fill="none" stroke="#141414" stroke-width="2.9" stroke-linecap="butt" stroke-linejoin="miter"/>
<polyline points="250.6,804 250.6,826" fill="none" stroke="#141414" stroke-width="4.4" stroke-linecap="butt" stroke-linejoin="miter"/>
<rect x="255" y="804" width="4.8" height="22" fill="#fff" stroke="#141414" stroke-width="1.5"/>
<polyline points="259.8,815 281.5,815" fill="none" stroke="#141414" stroke-width="2.9" stroke-linecap="butt" stroke-linejoin="miter"/>
<polyline points="283.8,805 283.8,826.2" fill="none" stroke="#141414" stroke-width="5" stroke-linecap="butt" stroke-linejoin="miter"/>
<polyline points="241.2,797.8 241.2,809" fill="none" stroke="#141414" stroke-width="2.2" stroke-linecap="butt" stroke-linejoin="miter"/>
<polyline points="264.4,804 273.6,804" fill="none" stroke="#141414" stroke-width="2" stroke-linecap="butt" stroke-linejoin="miter"/>
<polyline points="269,799.4 269,808.6" fill="none" stroke="#141414" stroke-width="2" stroke-linecap="butt" stroke-linejoin="miter"/>
<circle cx="222.9" cy="902.8" r="4.9" fill="#141414"/>
<polyline points="222.9,902.8 246,902.8" fill="none" stroke="#141414" stroke-width="2.9" stroke-linecap="butt" stroke-linejoin="miter"/>
<rect x="246" y="897.3" width="42" height="12" fill="#fff" stroke="#141414" stroke-width="2.5"/>
<polyline points="288,902.8 378,902.8" fill="none" stroke="#141414" stroke-width="2.9" stroke-linecap="butt" stroke-linejoin="miter"/>
<circle cx="336.4" cy="902.8" r="4.9" fill="#141414"/>
<rect x="325.6" y="849" width="21.8" height="4.6" fill="#fff" stroke="#141414" stroke-width="1.5"/>
<polyline points="325.6,858.6 347.4,858.6" fill="none" stroke="#141414" stroke-width="4.4" stroke-linecap="butt" stroke-linejoin="miter"/>
<polyline points="336.2,860 336.4,902.8" fill="none" stroke="#141414" stroke-width="2.9" stroke-linecap="butt" stroke-linejoin="miter"/>
<polyline points="342.2,836.4 351.8,836.4" fill="none" stroke="#141414" stroke-width="2" stroke-linecap="butt" stroke-linejoin="miter"/>
<polyline points="347,831.6 347,841.2" fill="none" stroke="#141414" stroke-width="2" stroke-linecap="butt" stroke-linejoin="miter"/>
<polyline points="346.8,867.5 346.8,878" fill="none" stroke="#141414" stroke-width="2" stroke-linecap="butt" stroke-linejoin="miter"/>
<circle cx="403.8" cy="928.6" r="24" fill="none" stroke="#141414" stroke-width="3.8"/>
<polyline points="392.5,936.2 415.1,936.2" fill="none" stroke="#141414" stroke-width="5" stroke-linecap="butt" stroke-linejoin="miter"/>
<polyline points="377.5,902.8 400,934.7" fill="none" stroke="#141414" stroke-width="3.1" stroke-linecap="butt" stroke-linejoin="miter"/>
<polyline points="430,902.8 407.8,934.7" fill="none" stroke="#141414" stroke-width="3.1" stroke-linecap="butt" stroke-linejoin="miter"/>
<path d="M410.4,931 L421.1,924.5 L415.2,924 L412.7,918.7 Z" fill="#141414" stroke="#141414" stroke-width="1.6" stroke-linejoin="round"/>
<polyline points="403.8,936.2 403.8,968.3" fill="none" stroke="#141414" stroke-width="2.8" stroke-linecap="butt" stroke-linejoin="miter"/>
<polyline points="336.4,902.8 336.4,941 317.6,941 317.6,983.6" fill="none" stroke="#141414" stroke-width="2.9" stroke-linecap="butt" stroke-linejoin="miter"/>
<rect x="311.7" y="983.6" width="12.6" height="41" fill="#fff" stroke="#141414" stroke-width="2.5"/>
<polyline points="317.6,1024.6 317.6,1049.6" fill="none" stroke="#141414" stroke-width="2.9" stroke-linecap="butt" stroke-linejoin="miter"/>
<circle cx="317.8" cy="1049.8" r="4.9" fill="#141414"/>
<polyline points="403.8,968.3 359,968.3 359,983.6" fill="none" stroke="#141414" stroke-width="2.9" stroke-linecap="butt" stroke-linejoin="miter"/>
<rect x="352.7" y="983.6" width="12.6" height="41" fill="#fff" stroke="#141414" stroke-width="2.5"/>
<polyline points="359,1024.6 359,1049.4 262.4,1049.4 262.4,1014" fill="none" stroke="#141414" stroke-width="2.9" stroke-linecap="butt" stroke-linejoin="miter"/>
<polyline points="251.4,1012.6 273.6,1012.6" fill="none" stroke="#141414" stroke-width="4.4" stroke-linecap="butt" stroke-linejoin="miter"/>
<rect x="251.4" y="1004" width="22.2" height="4.6" fill="#fff" stroke="#141414" stroke-width="1.5"/>
<polyline points="262.4,1004 262.4,972.4 289.5,972.4" fill="none" stroke="#141414" stroke-width="2.9" stroke-linecap="butt" stroke-linejoin="miter"/>
<polyline points="291.4,963.4 291.4,984" fill="none" stroke="#141414" stroke-width="5" stroke-linecap="butt" stroke-linejoin="miter"/>
<polyline points="267.8,995.6 277.4,995.6" fill="none" stroke="#141414" stroke-width="2" stroke-linecap="butt" stroke-linejoin="miter"/>
<polyline points="272.6,990.8 272.6,1000.4" fill="none" stroke="#141414" stroke-width="2" stroke-linecap="butt" stroke-linejoin="miter"/>
<polyline points="272.6,1019.5 272.6,1030" fill="none" stroke="#141414" stroke-width="2" stroke-linecap="butt" stroke-linejoin="miter"/>
<circle cx="403.8" cy="968.3" r="4.9" fill="#141414"/>
<polyline points="403.8,968.3 403.8,995" fill="none" stroke="#141414" stroke-width="2.9" stroke-linecap="butt" stroke-linejoin="miter"/>
<rect x="393" y="995" width="22" height="4.4" fill="#fff" stroke="#141414" stroke-width="1.5"/>
<polyline points="393,1004.4 415,1004.4" fill="none" stroke="#141414" stroke-width="4.4" stroke-linecap="butt" stroke-linejoin="miter"/>
<polyline points="403.8,1006 403.8,1023.4 456,1023.4" fill="none" stroke="#141414" stroke-width="2.9" stroke-linecap="butt" stroke-linejoin="miter"/>
<polyline points="411,983.6 420.6,983.6" fill="none" stroke="#141414" stroke-width="2" stroke-linecap="butt" stroke-linejoin="miter"/>
<polyline points="415.8,978.8 415.8,988.4" fill="none" stroke="#141414" stroke-width="2" stroke-linecap="butt" stroke-linejoin="miter"/>
<polyline points="411.4,1011 411.4,1019.5" fill="none" stroke="#141414" stroke-width="2" stroke-linecap="butt" stroke-linejoin="miter"/>
<polyline points="403.8,967.7 458,967.5" fill="none" stroke="#141414" stroke-width="2.9" stroke-linecap="butt" stroke-linejoin="miter"/>
<rect x="458" y="961.1" width="42.6" height="12.4" fill="#fff" stroke="#141414" stroke-width="2.5"/>
<polyline points="500.6,967.3 553.4,967.3" fill="none" stroke="#141414" stroke-width="2.9" stroke-linecap="butt" stroke-linejoin="miter"/>
<polyline points="429,902.8 470,902.8" fill="none" stroke="#141414" stroke-width="2.9" stroke-linecap="butt" stroke-linejoin="miter"/>
<circle cx="450.6" cy="902.8" r="4.9" fill="#141414"/>
<rect x="470" y="897" width="42.5" height="12" fill="#fff" stroke="#141414" stroke-width="2.5"/>
<polyline points="512.5,902.8 553.4,902.8 553.4,1049" fill="none" stroke="#141414" stroke-width="2.9" stroke-linecap="butt" stroke-linejoin="miter"/>
<circle cx="553.4" cy="938.4" r="4.9" fill="#141414"/>
<circle cx="553.4" cy="967.3" r="4.9" fill="#141414"/>
<circle cx="553.4" cy="1049" r="4.9" fill="#141414"/>
<polyline points="450.6,902.8 450.6,938.4 518,938.4" fill="none" stroke="#141414" stroke-width="2.9" stroke-linecap="butt" stroke-linejoin="miter"/>
<polyline points="520,927.4 520,949.2" fill="none" stroke="#141414" stroke-width="4.6" stroke-linecap="butt" stroke-linejoin="miter"/>
<rect x="524.6" y="927.4" width="5" height="21.8" fill="#fff" stroke="#141414" stroke-width="1.5"/>
<polyline points="529.6,938.4 553.4,938.4" fill="none" stroke="#141414" stroke-width="2.9" stroke-linecap="butt" stroke-linejoin="miter"/>
<polyline points="513,946 513,955" fill="none" stroke="#141414" stroke-width="2" stroke-linecap="butt" stroke-linejoin="miter"/>
<polyline points="519.9,918.8 529.1,918.8" fill="none" stroke="#141414" stroke-width="2" stroke-linecap="butt" stroke-linejoin="miter"/>
<polyline points="524.5,914.2 524.5,923.4" fill="none" stroke="#141414" stroke-width="2" stroke-linecap="butt" stroke-linejoin="miter"/>
<polyline points="372.4,1087.2 372.4,1049.2 403.5,1049.2" fill="none" stroke="#141414" stroke-width="2.9" stroke-linecap="butt" stroke-linejoin="miter"/>
<polyline points="405.6,1038 405.6,1059.2" fill="none" stroke="#141414" stroke-width="5" stroke-linecap="butt" stroke-linejoin="miter"/>
<rect x="411.2" y="1038" width="4.4" height="21.2" fill="#fff" stroke="#141414" stroke-width="1.5"/>
<polyline points="415.6,1049.2 452.8,1049.2" fill="none" stroke="#141414" stroke-width="2.9" stroke-linecap="butt" stroke-linejoin="miter"/>
<rect x="452.8" y="1043.3" width="42" height="12.6" fill="#fff" stroke="#141414" stroke-width="2.5"/>
<polyline points="454.6,1023.4 488.2,1066.8" fill="none" stroke="#141414" stroke-width="2.8" stroke-linecap="butt" stroke-linejoin="miter"/>
<polyline points="481.2,1071 492.9,1063.2" fill="none" stroke="#141414" stroke-width="3" stroke-linecap="butt" stroke-linejoin="miter"/>
<polyline points="494.8,1049.2 610,1049.2" fill="none" stroke="#141414" stroke-width="2.9" stroke-linecap="butt" stroke-linejoin="miter"/>
<circle cx="610" cy="1049.2" r="4.9" fill="#141414"/>
<polyline points="397,1039.4 401.6,1039.4" fill="none" stroke="#141414" stroke-width="2" stroke-linecap="butt" stroke-linejoin="miter"/>
<polyline points="421.2,1037 430.4,1037" fill="none" stroke="#141414" stroke-width="2" stroke-linecap="butt" stroke-linejoin="miter"/>
<polyline points="425.8,1032.4 425.8,1041.6" fill="none" stroke="#141414" stroke-width="2" stroke-linecap="butt" stroke-linejoin="miter"/>
<rect x="246" y="1081.6" width="42" height="11.8" fill="#fff" stroke="#141414" stroke-width="2.5"/>
<polyline points="288,1087.2 378,1087.2" fill="none" stroke="#141414" stroke-width="2.9" stroke-linecap="butt" stroke-linejoin="miter"/>
<circle cx="330.5" cy="1087.2" r="4.9" fill="#141414"/>
<circle cx="372.4" cy="1087.2" r="4.9" fill="#141414"/>
<circle cx="407.5" cy="1111.1" r="23.7" fill="none" stroke="#141414" stroke-width="4"/>
<polyline points="396.2,1116.7 418.8,1116.7" fill="none" stroke="#141414" stroke-width="5" stroke-linecap="butt" stroke-linejoin="miter"/>
<polyline points="372.4,1087.2 403.7,1115.2" fill="none" stroke="#141414" stroke-width="3.1" stroke-linecap="butt" stroke-linejoin="miter"/>
<polyline points="433,1086 411.5,1115.2" fill="none" stroke="#141414" stroke-width="3.1" stroke-linecap="butt" stroke-linejoin="miter"/>
<path d="M414.2,1111.6 L425,1105.4 L419.2,1104.7 L416.8,1099.4 Z" fill="#141414" stroke="#141414" stroke-width="1.6" stroke-linejoin="round"/>
<polyline points="407.5,1116.7 407.5,1153" fill="none" stroke="#141414" stroke-width="2.8" stroke-linecap="butt" stroke-linejoin="miter"/>
<polyline points="431.5,1086 477.8,1086" fill="none" stroke="#141414" stroke-width="2.9" stroke-linecap="butt" stroke-linejoin="miter"/>
<rect x="477.8" y="1080.2" width="42.2" height="12.4" fill="#fff" stroke="#141414" stroke-width="2.5"/>
<polyline points="520,1086.4 610.4,1086.6" fill="none" stroke="#141414" stroke-width="2.9" stroke-linecap="butt" stroke-linejoin="miter"/>
<circle cx="610.6" cy="1086.6" r="4.9" fill="#141414"/>
<circle cx="405.9" cy="1153.2" r="4.9" fill="#141414"/>
<polyline points="368,1171.8 368,1152.6 478.4,1152.6" fill="none" stroke="#141414" stroke-width="2.9" stroke-linecap="butt" stroke-linejoin="miter"/>
<rect x="478.4" y="1145.7" width="41.6" height="12.6" fill="#fff" stroke="#141414" stroke-width="2.5"/>
<polyline points="520,1152 610.6,1151.6" fill="none" stroke="#141414" stroke-width="2.9" stroke-linecap="butt" stroke-linejoin="miter"/>
<circle cx="610.8" cy="1151.6" r="4.9" fill="#141414"/>
<polyline points="613.6,1092 614,1216" fill="none" stroke="#141414" stroke-width="2.2" stroke-linecap="butt" stroke-linejoin="miter"/>
<polyline points="330.5,1087.2 330.5,1174" fill="none" stroke="#141414" stroke-width="2.9" stroke-linecap="butt" stroke-linejoin="miter"/>
<rect x="324" y="1174" width="12.8" height="41" fill="#fff" stroke="#141414" stroke-width="2.5"/>
<polyline points="330.5,1215 330.5,1254.4 341,1254.4" fill="none" stroke="#141414" stroke-width="2.9" stroke-linecap="butt" stroke-linejoin="miter"/>
<circle cx="330.6" cy="1228.2" r="4.9" fill="#141414"/>
<rect x="361.4" y="1171.8" width="12.8" height="41" fill="#fff" stroke="#141414" stroke-width="2.5"/>
<polyline points="368,1212.8 368,1228.2 330.5,1228.2" fill="none" stroke="#141414" stroke-width="2.9" stroke-linecap="butt" stroke-linejoin="miter"/>
<polyline points="405.9,1152.6 405.9,1170" fill="none" stroke="#141414" stroke-width="2.9" stroke-linecap="butt" stroke-linejoin="miter"/>
<rect x="399.3" y="1170" width="13" height="40.2" fill="#fff" stroke="#141414" stroke-width="2.5"/>
<polyline points="405.6,1210.2 405.2,1230" fill="none" stroke="#141414" stroke-width="2.9" stroke-linecap="butt" stroke-linejoin="miter"/>
<polyline points="393.6,1231.6 416.6,1231.6" fill="none" stroke="#141414" stroke-width="4.2" stroke-linecap="butt" stroke-linejoin="miter"/>
<polyline points="393.6,1238.6 416.6,1238.6" fill="none" stroke="#141414" stroke-width="4.2" stroke-linecap="butt" stroke-linejoin="miter"/>
<polyline points="405.2,1240 405.6,1274.8" fill="none" stroke="#141414" stroke-width="2.9" stroke-linecap="butt" stroke-linejoin="miter"/>
<polyline points="395.6,1288.6 405.4,1273.6 415.6,1287.4" fill="none" stroke="#141414" stroke-width="3.2" stroke-linecap="round" stroke-linejoin="round"/>
<polyline points="343,1243.6 343,1265.6" fill="none" stroke="#141414" stroke-width="4.6" stroke-linecap="butt" stroke-linejoin="miter"/>
<rect x="347.6" y="1243.6" width="4.6" height="22" fill="#fff" stroke="#141414" stroke-width="1.5"/>
<polyline points="352.2,1254.6 371,1254.6" fill="none" stroke="#141414" stroke-width="2.9" stroke-linecap="butt" stroke-linejoin="miter"/>
<polyline points="373,1244.6 373,1266.2" fill="none" stroke="#141414" stroke-width="5" stroke-linecap="butt" stroke-linejoin="miter"/>
<polyline points="332.4,1241.6 338.4,1241.6" fill="none" stroke="#141414" stroke-width="2.2" stroke-linecap="butt" stroke-linejoin="miter"/>
<polyline points="357.2,1242.6 366.4,1242.6" fill="none" stroke="#141414" stroke-width="2" stroke-linecap="butt" stroke-linejoin="miter"/>
<polyline points="361.8,1238 361.8,1247.2" fill="none" stroke="#141414" stroke-width="2" stroke-linecap="butt" stroke-linejoin="miter"/>
<circle cx="612" cy="1246" r="4.9" fill="#141414"/>
<polyline points="634,1245.4 612,1246 461.4,1246.4 461.4,1274.8" fill="none" stroke="#141414" stroke-width="2.9" stroke-linecap="butt" stroke-linejoin="miter"/>
<polyline points="453.6,1288.6 462.6,1274.4 474.6,1287.4" fill="none" stroke="#141414" stroke-width="3.2" stroke-linecap="round" stroke-linejoin="round"/>
<text transform="translate(458.6,1301.4) rotate(180)" font-family="'Liberation Sans', sans-serif" font-size="18.5" font-style="italic" font-weight="bold" text-anchor="start" fill="#141414" textLength="45.4" lengthAdjust="spacingAndGlyphs" stroke="#141414" stroke-width="0.7">вход</text>
<text transform="translate(278.4,243.6) rotate(-90)" font-family="'Liberation Sans', sans-serif" font-size="21.5" font-style="italic" font-weight="normal" text-anchor="start" fill="#141414"  stroke="#141414" stroke-width="0.7">T<tspan font-size="17.5" dy="9.1" dx="-5.3">8</tspan></text>
<text transform="translate(293.2,283.2) rotate(-90)" font-family="'Liberation Sans', sans-serif" font-size="21.5" font-style="italic" font-weight="normal" text-anchor="start" fill="#141414"  stroke="#141414" stroke-width="0.7">T<tspan font-size="17.5" dy="10.2" dx="-5.3">6</tspan></text>
<text transform="translate(437,273) rotate(-90)" font-family="'Liberation Sans', sans-serif" font-size="21.5" font-style="italic" font-weight="normal" text-anchor="start" fill="#141414"  stroke="#141414" stroke-width="0.7">T<tspan font-size="17.5" dy="11" dx="-5.3">9</tspan></text>
<text transform="translate(461.5,291.6) rotate(-90)" font-family="'Liberation Sans', sans-serif" font-size="21.5" font-style="italic" font-weight="normal" text-anchor="start" fill="#141414"  stroke="#141414" stroke-width="0.7">T<tspan font-size="17.5" dy="10.5" dx="-5.3">7</tspan></text>
<text transform="translate(412.5,369.8) rotate(-90)" font-family="'Liberation Sans', sans-serif" font-size="21.5" font-style="italic" font-weight="normal" text-anchor="start" fill="#141414"  stroke="#141414" stroke-width="0.7">T<tspan font-size="17.5" dy="8" dx="-5.3">5</tspan></text>
<text transform="translate(365.9,565.6) rotate(-90)" font-family="'Liberation Sans', sans-serif" font-size="21.5" font-style="italic" font-weight="normal" text-anchor="start" fill="#141414"  stroke="#141414" stroke-width="0.7">T<tspan font-size="17.5" dy="6.8" dx="-5.3">4</tspan></text>
<text transform="translate(378.4,665.2) rotate(-90)" font-family="'Liberation Sans', sans-serif" font-size="21.5" font-style="italic" font-weight="normal" text-anchor="start" fill="#141414"  stroke="#141414" stroke-width="0.7">T<tspan font-size="17.5" dy="5.6" dx="-5.3">3</tspan></text>
<text transform="translate(367.5,945.5) rotate(-90)" font-family="'Liberation Sans', sans-serif" font-size="21.5" font-style="italic" font-weight="normal" text-anchor="start" fill="#141414"  stroke="#141414" stroke-width="0.7">T<tspan font-size="17.5" dy="6.8" dx="-5.3">2</tspan></text>
<text transform="translate(368.9,1128) rotate(-90)" font-family="'Liberation Sans', sans-serif" font-size="21.5" font-style="italic" font-weight="normal" text-anchor="start" fill="#141414"  stroke="#141414" stroke-width="0.7">T<tspan font-size="14" dy="5.6" dx="-5.3">1</tspan></text>
<text transform="translate(278.4,367.3) rotate(-90)" font-family="'Liberation Sans', sans-serif" font-size="18" font-style="italic" font-weight="normal" text-anchor="start" fill="#141414" textLength="52.3" lengthAdjust="spacingAndGlyphs" stroke="#141414" stroke-width="0.7">R<tspan font-size="15" dy="9.1" dx="0">30</tspan><tspan font-size="16.5" dy="-7.5" dx="1.5">680</tspan></text>
<text transform="translate(246.6,446.4) rotate(-90)" font-family="'Liberation Sans', sans-serif" font-size="18" font-style="italic" font-weight="normal" text-anchor="start" fill="#141414" textLength="39.8" lengthAdjust="spacingAndGlyphs" stroke="#141414" stroke-width="0.7">R<tspan font-size="15" dy="6.8" dx="0">29</tspan><tspan font-size="13" dy="-6.8" dx="3">1к</tspan></text>
<text transform="translate(277.3,552.5) rotate(-90)" font-family="'Liberation Sans', sans-serif" font-size="18" font-style="italic" font-weight="normal" text-anchor="start" fill="#141414" textLength="25.9" lengthAdjust="spacingAndGlyphs" stroke="#141414" stroke-width="0.7">R<tspan font-size="15" dy="7" dx="0">24</tspan></text>
<text transform="translate(303.6,559) rotate(-90)" font-family="'Liberation Sans', sans-serif" font-size="17.5" font-style="italic" font-weight="normal" text-anchor="start" fill="#141414" textLength="28" lengthAdjust="spacingAndGlyphs" stroke="#141414" stroke-width="0.7">3,3к</text>
<text transform="translate(246.6,603.6) rotate(-90)" font-family="'Liberation Sans', sans-serif" font-size="18" font-style="italic" font-weight="normal" text-anchor="start" fill="#141414" textLength="45.4" lengthAdjust="spacingAndGlyphs" stroke="#141414" stroke-width="0.7">R<tspan font-size="15" dy="9" dx="0">23</tspan><tspan font-size="17.5" dy="-9" dx="4">2к</tspan></text>
<text transform="translate(300,628.6) rotate(-90)" font-family="'Liberation Sans', sans-serif" font-size="18" font-style="italic" font-weight="normal" text-anchor="start" fill="#141414" textLength="46.6" lengthAdjust="spacingAndGlyphs" stroke="#141414" stroke-width="0.7">R<tspan font-size="15" dy="6.8" dx="0">21</tspan><tspan font-size="17.5" dy="-6.8" dx="3">15к</tspan></text>
<text transform="translate(292,617.6) rotate(-90)" font-family="'Liberation Sans', sans-serif" font-size="21" font-style="normal" font-weight="normal" text-anchor="start" fill="#141414"  stroke="#141414" stroke-width="0.6">*</text>
<text transform="translate(292,714.3) rotate(-90)" font-family="'Liberation Sans', sans-serif" font-size="18" font-style="italic" font-weight="normal" text-anchor="start" fill="#141414" textLength="25" lengthAdjust="spacingAndGlyphs" stroke="#141414" stroke-width="0.7">R<tspan font-size="15" dy="5.7" dx="0">19</tspan></text>
<text transform="translate(286.4,700.9) rotate(-90)" font-family="'Liberation Sans', sans-serif" font-size="21" font-style="normal" font-weight="normal" text-anchor="start" fill="#141414"  stroke="#141414" stroke-width="0.6">*</text>
<text transform="translate(316,720) rotate(-90)" font-family="'Liberation Sans', sans-serif" font-size="17.5" font-style="italic" font-weight="normal" text-anchor="start" fill="#141414" textLength="33" lengthAdjust="spacingAndGlyphs" stroke="#141414" stroke-width="0.7">0,47</text>
<text transform="translate(476.4,635) rotate(-90)" font-family="'Liberation Sans', sans-serif" font-size="18" font-style="italic" font-weight="normal" text-anchor="start" fill="#141414" textLength="24.8" lengthAdjust="spacingAndGlyphs" stroke="#141414" stroke-width="0.7">R<tspan font-size="15" dy="6.2" dx="0">20</tspan></text>
<text transform="translate(500,638) rotate(-90)" font-family="'Liberation Sans', sans-serif" font-size="17.5" font-style="italic" font-weight="normal" text-anchor="start" fill="#141414" textLength="26.4" lengthAdjust="spacingAndGlyphs" stroke="#141414" stroke-width="0.7">10к</text>
<text transform="translate(546,575.3) rotate(-90)" font-family="'Liberation Sans', sans-serif" font-size="18" font-style="italic" font-weight="normal" text-anchor="start" fill="#141414" textLength="49.3" lengthAdjust="spacingAndGlyphs" stroke="#141414" stroke-width="0.7">R<tspan font-size="15" dy="5.5" dx="0">22</tspan><tspan font-size="18" dy="-5.5" dx="0">R</tspan><tspan font-size="15" dy="5.5">26</tspan></text>
<text transform="translate(569,582) rotate(-90)" font-family="'Liberation Sans', sans-serif" font-size="17.5" font-style="italic" font-weight="normal" text-anchor="start" fill="#141414" textLength="51.6" lengthAdjust="spacingAndGlyphs" stroke="#141414" stroke-width="0.7">2,7к 1к</text>
<text transform="translate(470.5,552.5) rotate(-90)" font-family="'Liberation Sans', sans-serif" font-size="18" font-style="italic" font-weight="normal" text-anchor="start" fill="#141414" textLength="25" lengthAdjust="spacingAndGlyphs" stroke="#141414" stroke-width="0.7">R<tspan font-size="15" dy="9" dx="0">25</tspan></text>
<text transform="translate(493.2,550.2) rotate(-90)" font-family="'Liberation Sans', sans-serif" font-size="17.5" font-style="italic" font-weight="normal" text-anchor="start" fill="#141414" textLength="15.9" lengthAdjust="spacingAndGlyphs" stroke="#141414" stroke-width="0.7">1к</text>
<text transform="translate(559,439) rotate(-90)" font-family="'Liberation Sans', sans-serif" font-size="18" font-style="italic" font-weight="normal" text-anchor="start" fill="#141414" textLength="22.6" lengthAdjust="spacingAndGlyphs" stroke="#141414" stroke-width="0.7">R<tspan font-size="15" dy="7" dx="0">28</tspan></text>
<text transform="translate(581.8,439) rotate(-90)" font-family="'Liberation Sans', sans-serif" font-size="17.5" font-style="italic" font-weight="normal" text-anchor="start" fill="#141414" textLength="14.7" lengthAdjust="spacingAndGlyphs" stroke="#141414" stroke-width="0.7">1к</text>
<text transform="translate(465.4,415.6) rotate(-90)" font-family="'Liberation Sans', sans-serif" font-size="18" font-style="italic" font-weight="normal" text-anchor="start" fill="#141414" textLength="24.2" lengthAdjust="spacingAndGlyphs" stroke="#141414" stroke-width="0.7">R<tspan font-size="15" dy="4.5" dx="0">31</tspan></text>
<text transform="translate(487.5,415.2) rotate(-90)" font-family="'Liberation Sans', sans-serif" font-size="17.5" font-style="italic" font-weight="normal" text-anchor="start" fill="#141414" textLength="19.2" lengthAdjust="spacingAndGlyphs" stroke="#141414" stroke-width="0.7">27</text>
<text transform="translate(560,368.8) rotate(-90)" font-family="'Liberation Sans', sans-serif" font-size="18" font-style="italic" font-weight="normal" text-anchor="start" fill="#141414" textLength="22.8" lengthAdjust="spacingAndGlyphs" stroke="#141414" stroke-width="0.7">R<tspan font-size="15" dy="5.7" dx="0">32</tspan></text>
<text transform="translate(553,357) rotate(-90)" font-family="'Liberation Sans', sans-serif" font-size="21" font-style="normal" font-weight="normal" text-anchor="start" fill="#141414"  stroke="#141414" stroke-width="0.6">*</text>
<text transform="translate(581.8,369.6) rotate(-90)" font-family="'Liberation Sans', sans-serif" font-size="17.5" font-style="italic" font-weight="normal" text-anchor="start" fill="#141414" textLength="20.4" lengthAdjust="spacingAndGlyphs" stroke="#141414" stroke-width="0.7">100</text>
<text transform="translate(534,349.2) rotate(-90)" font-family="'Liberation Sans', sans-serif" font-size="18" font-style="italic" font-weight="normal" text-anchor="start" fill="#141414" textLength="45.4" lengthAdjust="spacingAndGlyphs" stroke="#141414" stroke-width="0.7">R<tspan font-size="15" dy="6.4" dx="0">33</tspan><tspan font-size="17.5" dy="-6.4" dx="4">1к</tspan></text>
<text transform="translate(404.5,307.3) rotate(-90)" font-family="'Liberation Sans', sans-serif" font-size="18" font-style="italic" font-weight="normal" text-anchor="start" fill="#141414" textLength="25.5" lengthAdjust="spacingAndGlyphs" stroke="#141414" stroke-width="0.7">R<tspan font-size="15" dy="5.5" dx="0">35</tspan></text>
<text transform="translate(407.3,234.6) rotate(-90)" font-family="'Liberation Sans', sans-serif" font-size="16.5" font-style="italic" font-weight="normal" text-anchor="start" fill="#141414" textLength="18.2" lengthAdjust="spacingAndGlyphs" stroke="#141414" stroke-width="0.7">0,1</text>
<text transform="translate(566,188.6) rotate(-90)" font-family="'Liberation Sans', sans-serif" font-size="18" font-style="italic" font-weight="normal" text-anchor="start" fill="#141414" textLength="23.8" lengthAdjust="spacingAndGlyphs" stroke="#141414" stroke-width="0.7">R<tspan font-size="15" dy="5.8" dx="0">36</tspan></text>
<text transform="translate(589,188.6) rotate(-90)" font-family="'Liberation Sans', sans-serif" font-size="17" font-style="italic" font-weight="normal" text-anchor="start" fill="#141414" textLength="25" lengthAdjust="spacingAndGlyphs" stroke="#141414" stroke-width="0.7">1ом</text>
<text transform="translate(555,734.6) rotate(-90)" font-family="'Liberation Sans', sans-serif" font-size="18" font-style="italic" font-weight="normal" text-anchor="start" fill="#141414" textLength="22" lengthAdjust="spacingAndGlyphs" stroke="#141414" stroke-width="0.7">R<tspan font-size="15" dy="5.4" dx="0">18</tspan></text>
<text transform="translate(574.5,737) rotate(-90)" font-family="'Liberation Sans', sans-serif" font-size="17.5" font-style="italic" font-weight="normal" text-anchor="start" fill="#141414" textLength="23" lengthAdjust="spacingAndGlyphs" stroke="#141414" stroke-width="0.7">47к</text>
<text transform="translate(551,799.5) rotate(-90)" font-family="'Liberation Sans', sans-serif" font-size="18" font-style="italic" font-weight="normal" text-anchor="start" fill="#141414" textLength="43.1" lengthAdjust="spacingAndGlyphs" stroke="#141414" stroke-width="0.7">R<tspan font-size="15" dy="5.8" dx="0">17</tspan><tspan font-size="17.5" dy="-5.8" dx="4">1к</tspan></text>
<text transform="translate(391.4,859) rotate(-90)" font-family="'Liberation Sans', sans-serif" font-size="18" font-style="italic" font-weight="normal" text-anchor="start" fill="#141414" textLength="55.6" lengthAdjust="spacingAndGlyphs" stroke="#141414" stroke-width="0.7">R<tspan font-size="15" dy="5.6" dx="0">16</tspan><tspan font-size="17.5" dy="-5.6" dx="1.5">2,2к</tspan></text>
<text transform="translate(448.2,850.5) rotate(-90)" font-family="'Liberation Sans', sans-serif" font-size="18" font-style="italic" font-weight="normal" text-anchor="start" fill="#141414" textLength="53.5" lengthAdjust="spacingAndGlyphs" stroke="#141414" stroke-width="0.7">R<tspan font-size="15" dy="6" dx="0">14</tspan><tspan font-size="17.5" dy="-6" dx="1.5">10к</tspan></text>
<text transform="translate(549.1,845.2) rotate(-90)" font-family="'Liberation Sans', sans-serif" font-size="18" font-style="italic" font-weight="normal" text-anchor="start" fill="#141414" textLength="25.2" lengthAdjust="spacingAndGlyphs" stroke="#141414" stroke-width="0.7">R<tspan font-size="15" dy="5" dx="0">15</tspan></text>
<text transform="translate(572.4,850.8) rotate(-90)" font-family="'Liberation Sans', sans-serif" font-size="17.5" font-style="italic" font-weight="normal" text-anchor="start" fill="#141414" textLength="26.2" lengthAdjust="spacingAndGlyphs" stroke="#141414" stroke-width="0.7">47к</text>
<text transform="translate(591,955) rotate(-90)" font-family="'Liberation Sans', sans-serif" font-size="18" font-style="italic" font-weight="normal" text-anchor="start" fill="#141414" textLength="44.3" lengthAdjust="spacingAndGlyphs" stroke="#141414" stroke-width="0.7">R<tspan font-size="15" dy="7.9" dx="0">13</tspan><tspan font-size="17.5" dy="-7.9" dx="3">1к</tspan></text>
<text transform="translate(490.2,935.2) rotate(-90)" font-family="'Liberation Sans', sans-serif" font-size="18" font-style="italic" font-weight="normal" text-anchor="start" fill="#141414" textLength="23.8" lengthAdjust="spacingAndGlyphs" stroke="#141414" stroke-width="0.7">R<tspan font-size="15" dy="5.8" dx="0">12</tspan></text>
<text transform="translate(511.8,933) rotate(-90)" font-family="'Liberation Sans', sans-serif" font-size="17.5" font-style="italic" font-weight="normal" text-anchor="start" fill="#141414" textLength="16" lengthAdjust="spacingAndGlyphs" stroke="#141414" stroke-width="0.7">1к</text>
<text transform="translate(273.5,890.9) rotate(-90)" font-family="'Liberation Sans', sans-serif" font-size="18" font-style="italic" font-weight="normal" text-anchor="start" fill="#141414" textLength="50" lengthAdjust="spacingAndGlyphs" stroke="#141414" stroke-width="0.7">R<tspan font-size="15" dy="5" dx="0">11</tspan><tspan font-size="17.5" dy="-5" dx="1.5">9,1к</tspan></text>
<text transform="translate(481.4,1001) rotate(-90)" font-family="'Liberation Sans', sans-serif" font-size="18" font-style="italic" font-weight="normal" text-anchor="start" fill="#141414" textLength="23" lengthAdjust="spacingAndGlyphs" stroke="#141414" stroke-width="0.7">R<tspan font-size="15" dy="5.6" dx="0">10</tspan></text>
<text transform="translate(501.8,1001) rotate(-90)" font-family="'Liberation Sans', sans-serif" font-size="17.5" font-style="italic" font-weight="normal" text-anchor="start" fill="#141414" textLength="24" lengthAdjust="spacingAndGlyphs" stroke="#141414" stroke-width="0.7">20к</text>
<text transform="translate(342.7,1041.8) rotate(-90)" font-family="'Liberation Sans', sans-serif" font-size="18" font-style="italic" font-weight="normal" text-anchor="start" fill="#141414" textLength="54.5" lengthAdjust="spacingAndGlyphs" stroke="#141414" stroke-width="0.7">R<tspan font-size="15" dy="5.7" dx="0">9</tspan><tspan font-size="17.5" dy="-5.7" dx="6">39к</tspan></text>
<text transform="translate(301.8,1041.8) rotate(-90)" font-family="'Liberation Sans', sans-serif" font-size="18" font-style="italic" font-weight="normal" text-anchor="start" fill="#141414" textLength="50" lengthAdjust="spacingAndGlyphs" stroke="#141414" stroke-width="0.7">R<tspan font-size="15" dy="5.7" dx="0">8</tspan><tspan font-size="17.5" dy="-5.7" dx="5">20к</tspan></text>
<text transform="translate(481.4,1028.2) rotate(-90)" font-family="'Liberation Sans', sans-serif" font-size="18" font-style="italic" font-weight="normal" text-anchor="start" fill="#141414" textLength="18.6" lengthAdjust="spacingAndGlyphs" stroke="#141414" stroke-width="0.7">R<tspan font-size="13" dy="3.4" dx="0">7</tspan></text>
<text transform="translate(503,1032.7) rotate(-90)" font-family="'Liberation Sans', sans-serif" font-size="17.5" font-style="italic" font-weight="normal" text-anchor="start" fill="#141414" textLength="23.8" lengthAdjust="spacingAndGlyphs" stroke="#141414" stroke-width="0.7">82к</text>
<text transform="translate(499.5,1120.2) rotate(-90)" font-family="'Liberation Sans', sans-serif" font-size="18" font-style="italic" font-weight="normal" text-anchor="start" fill="#141414" textLength="21" lengthAdjust="spacingAndGlyphs" stroke="#141414" stroke-width="0.7">R<tspan font-size="14" dy="4.5" dx="0">6</tspan></text>
<text transform="translate(521,1119) rotate(-90)" font-family="'Liberation Sans', sans-serif" font-size="17.5" font-style="italic" font-weight="normal" text-anchor="start" fill="#141414" textLength="17" lengthAdjust="spacingAndGlyphs" stroke="#141414" stroke-width="0.7">27</text>
<text transform="translate(266.6,1124.8) rotate(-90)" font-family="'Liberation Sans', sans-serif" font-size="18" font-style="italic" font-weight="normal" text-anchor="start" fill="#141414" textLength="22.2" lengthAdjust="spacingAndGlyphs" stroke="#141414" stroke-width="0.7">R<tspan font-size="13" dy="2.3" dx="0">5</tspan></text>
<text transform="translate(288.6,1128.2) rotate(-90)" font-family="'Liberation Sans', sans-serif" font-size="17.5" font-style="italic" font-weight="normal" text-anchor="start" fill="#141414" textLength="27.2" lengthAdjust="spacingAndGlyphs" stroke="#141414" stroke-width="0.7">9,1к</text>
<text transform="translate(498.6,1185.7) rotate(-90)" font-family="'Liberation Sans', sans-serif" font-size="18" font-style="italic" font-weight="normal" text-anchor="start" fill="#141414" textLength="21.7" lengthAdjust="spacingAndGlyphs" stroke="#141414" stroke-width="0.7">R<tspan font-size="15" dy="5.7" dx="0">4</tspan></text>
<text transform="translate(523.6,1189) rotate(-90)" font-family="'Liberation Sans', sans-serif" font-size="17.5" font-style="italic" font-weight="normal" text-anchor="start" fill="#141414" textLength="25" lengthAdjust="spacingAndGlyphs" stroke="#141414" stroke-width="0.7">10к</text>
<text transform="translate(428.9,1210.7) rotate(-90)" font-family="'Liberation Sans', sans-serif" font-size="18" font-style="italic" font-weight="normal" text-anchor="start" fill="#141414" textLength="39.7" lengthAdjust="spacingAndGlyphs" stroke="#141414" stroke-width="0.7">R<tspan font-size="14" dy="7.9" dx="0">3</tspan><tspan font-size="17.5" dy="-7.9" dx="5">1к</tspan></text>
<text transform="translate(353.9,1218.6) rotate(-90)" font-family="'Liberation Sans', sans-serif" font-size="18" font-style="italic" font-weight="normal" text-anchor="start" fill="#141414" textLength="55.6" lengthAdjust="spacingAndGlyphs" stroke="#141414" stroke-width="0.7">R<tspan font-size="13.5" dy="3.4" dx="0">2</tspan><tspan font-size="17.5" dy="-3.4" dx="6">47к</tspan></text>
<text transform="translate(313,1216.4) rotate(-90)" font-family="'Liberation Sans', sans-serif" font-size="18" font-style="italic" font-weight="normal" text-anchor="start" fill="#141414" textLength="56.9" lengthAdjust="spacingAndGlyphs" stroke="#141414" stroke-width="0.7">R<tspan font-size="13" dy="4.5" dx="0">1</tspan><tspan font-size="17.5" dy="-4.5" dx="10">47к</tspan></text>
<text transform="translate(602.3,314) rotate(-90)" font-family="'Liberation Sans', sans-serif" font-size="15.5" font-style="italic" font-weight="normal" text-anchor="start" fill="#141414" textLength="52.2" lengthAdjust="spacingAndGlyphs" stroke="#141414" stroke-width="0.7">C<tspan font-size="14.5" dy="7.7" dx="0">19</tspan><tspan font-size="17" dy="-5.7" dx="1.5">10,0</tspan></text>
<text transform="translate(332.5,276.4) rotate(-90)" font-family="'Liberation Sans', sans-serif" font-size="15.5" font-style="italic" font-weight="normal" text-anchor="start" fill="#141414" textLength="21.6" lengthAdjust="spacingAndGlyphs" stroke="#141414" stroke-width="0.7">C<tspan font-size="14.5" dy="5" dx="0">18</tspan></text>
<text transform="translate(375,309.3) rotate(-90)" font-family="'Liberation Sans', sans-serif" font-size="17" font-style="italic" font-weight="normal" text-anchor="start" fill="#141414" textLength="31.8" lengthAdjust="spacingAndGlyphs" stroke="#141414" stroke-width="0.7">1000</text>
<text transform="translate(269.3,465.7) rotate(-90)" font-family="'Liberation Sans', sans-serif" font-size="15.5" font-style="italic" font-weight="normal" text-anchor="start" fill="#141414" textLength="54.7" lengthAdjust="spacingAndGlyphs" stroke="#141414" stroke-width="0.7">C<tspan font-size="14.5" dy="9" dx="0">16</tspan><tspan font-size="17" dy="-8.3" dx="1.5">100,0</tspan></text>
<text transform="translate(338.6,472.5) rotate(-90)" font-family="'Liberation Sans', sans-serif" font-size="15.5" font-style="italic" font-weight="normal" text-anchor="start" fill="#141414" textLength="52.7" lengthAdjust="spacingAndGlyphs" stroke="#141414" stroke-width="0.7">C<tspan font-size="14.5" dy="6.9" dx="0">15</tspan><tspan font-size="17" dy="-5.5" dx="1.5">20,0</tspan></text>
<text transform="translate(493.7,481) rotate(-90)" font-family="'Liberation Sans', sans-serif" font-size="17" font-style="italic" font-weight="normal" text-anchor="start" fill="#141414" textLength="25.6" lengthAdjust="spacingAndGlyphs" stroke="#141414" stroke-width="0.7">50,0</text>
<text transform="translate(544.3,631) rotate(-90)" font-family="'Liberation Sans', sans-serif" font-size="15.5" font-style="italic" font-weight="normal" text-anchor="start" fill="#141414" textLength="23" lengthAdjust="spacingAndGlyphs" stroke="#141414" stroke-width="0.7">C<tspan font-size="14.5" dy="6.7" dx="0">14</tspan></text>
<text transform="translate(580.6,642.6) rotate(-90)" font-family="'Liberation Sans', sans-serif" font-size="17" font-style="italic" font-weight="normal" text-anchor="start" fill="#141414" textLength="31.8" lengthAdjust="spacingAndGlyphs" stroke="#141414" stroke-width="0.7">100,0</text>
<text transform="translate(591,737.4) rotate(-90)" font-family="'Liberation Sans', sans-serif" font-size="15.5" font-style="italic" font-weight="normal" text-anchor="start" fill="#141414" textLength="22.8" lengthAdjust="spacingAndGlyphs" stroke="#141414" stroke-width="0.7">C<tspan font-size="14.5" dy="6.5" dx="0">13</tspan></text>
<text transform="translate(612.6,741.4) rotate(-90)" font-family="'Liberation Sans', sans-serif" font-size="17.5" font-style="italic" font-weight="normal" text-anchor="start" fill="#141414" textLength="22.4" lengthAdjust="spacingAndGlyphs" stroke="#141414" stroke-width="0.7">1,0</text>
<text transform="translate(352,794.6) rotate(-90)" font-family="'Liberation Sans', sans-serif" font-size="15.5" font-style="italic" font-weight="normal" text-anchor="start" fill="#141414" textLength="22.1" lengthAdjust="spacingAndGlyphs" stroke="#141414" stroke-width="0.7">C<tspan font-size="14.5" dy="5.7" dx="0">12</tspan></text>
<text transform="translate(355,756) rotate(-90)" font-family="'Liberation Sans', sans-serif" font-size="17" font-style="italic" font-weight="normal" text-anchor="start" fill="#141414" textLength="27.3" lengthAdjust="spacingAndGlyphs" stroke="#141414" stroke-width="0.7">20,0</text>
<text transform="translate(426.3,812.3) rotate(-90)" font-family="'Liberation Sans', sans-serif" font-size="15.5" font-style="italic" font-weight="normal" text-anchor="start" fill="#141414" textLength="47.8" lengthAdjust="spacingAndGlyphs" stroke="#141414" stroke-width="0.7">C<tspan font-size="14.5" dy="5.8" dx="0">11</tspan><tspan font-size="17" dy="-4.8" dx="1.5">0,01</tspan></text>
<text transform="translate(258.5,798.6) rotate(-90)" font-family="'Liberation Sans', sans-serif" font-size="15.5" font-style="italic" font-weight="normal" text-anchor="start" fill="#141414" textLength="50.6" lengthAdjust="spacingAndGlyphs" stroke="#141414" stroke-width="0.7">C<tspan font-size="14.5" dy="7.5" dx="0">10</tspan><tspan font-size="17" dy="-6" dx="1.5">50,0</tspan></text>
<text transform="translate(589.8,858.4) rotate(-90)" font-family="'Liberation Sans', sans-serif" font-size="15.5" font-style="italic" font-weight="normal" text-anchor="start" fill="#141414" textLength="42" lengthAdjust="spacingAndGlyphs" stroke="#141414" stroke-width="0.7">C<tspan font-size="14.5" dy="6.8" dx="0">9</tspan><tspan font-size="17" dy="-5.6" dx="1.5">0,25</tspan></text>
<text transform="translate(475.5,828.4) rotate(-90)" font-family="'Liberation Sans', sans-serif" font-size="15.5" font-style="italic" font-weight="normal" text-anchor="start" fill="#141414" textLength="49.2" lengthAdjust="spacingAndGlyphs" stroke="#141414" stroke-width="0.7">C<tspan font-size="14.5" dy="5.5" dx="0">8</tspan><tspan font-size="17" dy="-5.5" dx="3">0,02</tspan></text>
<text transform="translate(324,842) rotate(-90)" font-family="'Liberation Sans', sans-serif" font-size="15.5" font-style="italic" font-weight="normal" text-anchor="start" fill="#141414" textLength="53.7" lengthAdjust="spacingAndGlyphs" stroke="#141414" stroke-width="0.7">C<tspan font-size="14.5" dy="5.6" dx="0">7</tspan><tspan font-size="17" dy="-4.6" dx="5">20,0</tspan></text>
<text transform="translate(544.5,961.6) rotate(-90)" font-family="'Liberation Sans', sans-serif" font-size="15.5" font-style="italic" font-weight="normal" text-anchor="start" fill="#141414" textLength="18.4" lengthAdjust="spacingAndGlyphs" stroke="#141414" stroke-width="0.7">C<tspan font-size="14.5" dy="5.7" dx="0">6</tspan></text>
<text transform="translate(546.8,934.2) rotate(-90)" font-family="'Liberation Sans', sans-serif" font-size="17" font-style="italic" font-weight="normal" text-anchor="start" fill="#141414" textLength="26" lengthAdjust="spacingAndGlyphs" stroke="#141414" stroke-width="0.7">50,0</text>
<text transform="translate(383.6,1023.6) rotate(-90)" font-family="'Liberation Sans', sans-serif" font-size="15.5" font-style="italic" font-weight="normal" text-anchor="start" fill="#141414" textLength="50" lengthAdjust="spacingAndGlyphs" stroke="#141414" stroke-width="0.7">C<tspan font-size="14.5" dy="6.9" dx="0">5</tspan><tspan font-size="17" dy="-5.5" dx="3">20,0</tspan></text>
<text transform="translate(242.7,1023.6) rotate(-90)" font-family="'Liberation Sans', sans-serif" font-size="15.5" font-style="italic" font-weight="normal" text-anchor="start" fill="#141414" textLength="46.6" lengthAdjust="spacingAndGlyphs" stroke="#141414" stroke-width="0.7">C<tspan font-size="14.5" dy="6.8" dx="0">4</tspan><tspan font-size="17" dy="-6.5" dx="2">10,0</tspan></text>
<text transform="translate(407.5,1080) rotate(-90)" font-family="'Liberation Sans', sans-serif" font-size="16.5" font-style="italic" font-weight="normal" text-anchor="start" fill="#141414" textLength="19" lengthAdjust="spacingAndGlyphs" stroke="#141414" stroke-width="0.7">C<tspan font-size="14.5" dy="6.8" dx="0">3</tspan></text>
<text transform="translate(434.6,1080.8) rotate(-90)" font-family="'Liberation Sans', sans-serif" font-size="17" font-style="italic" font-weight="normal" text-anchor="start" fill="#141414" textLength="25.8" lengthAdjust="spacingAndGlyphs" stroke="#141414" stroke-width="0.7">20,0</text>
<text transform="translate(434.5,1264) rotate(-90)" font-family="'Liberation Sans', sans-serif" font-size="15.5" font-style="italic" font-weight="normal" text-anchor="start" fill="#141414" textLength="42" lengthAdjust="spacingAndGlyphs" stroke="#141414" stroke-width="0.7">C<tspan font-size="14.5" dy="8" dx="0">2</tspan><tspan font-size="17" dy="-7.5" dx="2">0,5</tspan></text>
<text transform="translate(338,1286.8) rotate(-90)" font-family="'Liberation Sans', sans-serif" font-size="15" font-style="italic" font-weight="bold" text-anchor="start" fill="#141414" textLength="15.8" lengthAdjust="spacingAndGlyphs" stroke="#141414" stroke-width="0.7">C<tspan font-size="13.5" dy="5.6" dx="0">1</tspan></text>
<text transform="translate(365.5,1299.3) rotate(-90)" font-family="'Liberation Sans', sans-serif" font-size="16.5" font-style="italic" font-weight="bold" text-anchor="start" fill="#141414" textLength="27.3" lengthAdjust="spacingAndGlyphs" stroke="#141414" stroke-width="0.7">10,0</text>
<text transform="translate(268.4,140.4) rotate(-90)" font-family="'Liberation Sans', sans-serif" font-size="16.5" font-style="italic" font-weight="normal" text-anchor="start" fill="#141414" textLength="29.7" lengthAdjust="spacingAndGlyphs" stroke="#141414" stroke-width="0.7">24 в</text>
<text transform="translate(531,112.5) rotate(-90)" font-family="'Liberation Sans', sans-serif" font-size="17.5" font-style="italic" font-weight="normal" text-anchor="start" fill="#141414" textLength="48.9" lengthAdjust="spacing" stroke="#141414" stroke-width="0.7">Гр−1</text>
<text transform="translate(560.5,112.5) rotate(-90)" font-family="'Liberation Sans', sans-serif" font-size="17.5" font-style="italic" font-weight="normal" text-anchor="start" fill="#141414" textLength="54.5" lengthAdjust="spacing" stroke="#141414" stroke-width="0.7">4ГД−1</text>
<text transform="translate(490.3,197.7) rotate(-90)" font-family="'Liberation Sans', sans-serif" font-size="17.5" font-style="italic" font-weight="normal" text-anchor="start" fill="#141414" textLength="71.7" lengthAdjust="spacing" stroke="#141414" stroke-width="0.7">ДГЦ−24</text>
<text transform="translate(464.5,195.5) rotate(-90)" font-family="'Liberation Sans', sans-serif" font-size="18" font-style="italic" font-weight="normal" text-anchor="start" fill="#141414" textLength="22.8" lengthAdjust="spacingAndGlyphs" stroke="#141414" stroke-width="0.7">Д<tspan font-size="13.5" dy="4.5" dx="0">1</tspan></text>
<text transform="translate(204.5,813.6) rotate(-90)" font-family="'Liberation Sans', sans-serif" font-size="19.5" font-style="italic" font-weight="normal" text-anchor="start" fill="#141414" textLength="85.2" lengthAdjust="spacing" stroke="#141414" stroke-width="0.7">П13−П16</text>
<text transform="translate(203.2,897.6) rotate(-90)" font-family="'Liberation Sans', sans-serif" font-size="19.5" font-style="italic" font-weight="normal" text-anchor="start" fill="#141414" textLength="13.2" lengthAdjust="spacingAndGlyphs" stroke="#141414" stroke-width="0.7">1<tspan font-size="12.5" dy="7.5" dx="0">1</tspan></text>
<polyline points="196.6,864.2 196.6,875.4" fill="none" stroke="#141414" stroke-width="2.4" stroke-linecap="butt" stroke-linejoin="miter"/>
<text transform="translate(204.2,855.7) rotate(-90)" font-family="'Liberation Sans', sans-serif" font-size="19.5" font-style="italic" font-weight="normal" text-anchor="start" fill="#141414" textLength="16.1" lengthAdjust="spacingAndGlyphs" stroke="#141414" stroke-width="0.7">1<tspan font-size="14" dy="7.2" dx="0">7</tspan></text>
</g>
</svg>
</body></html>
